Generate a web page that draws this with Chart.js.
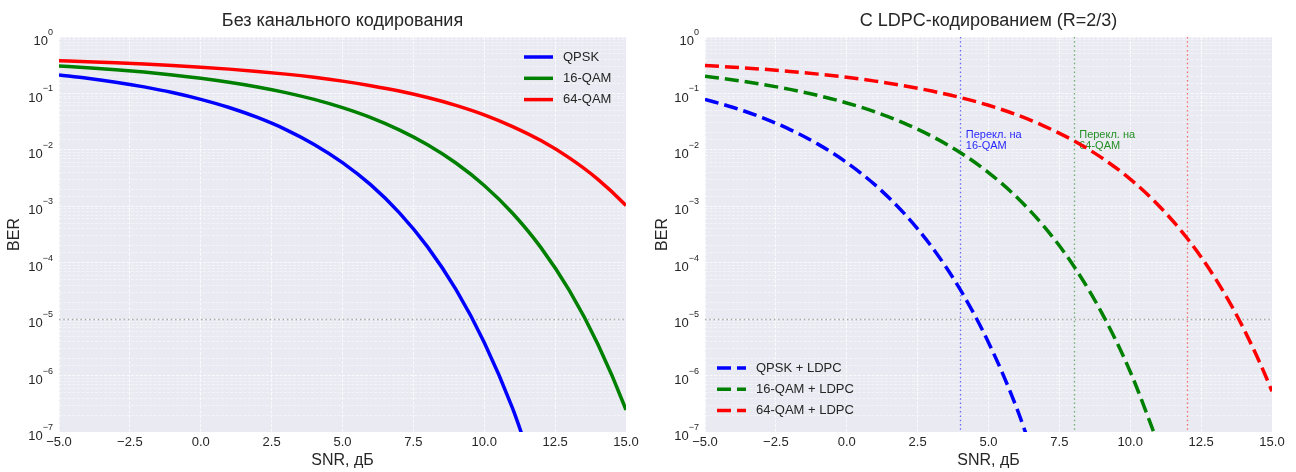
<!DOCTYPE html>
<html>
<head>
<meta charset="utf-8">
<script src="https://cdn.jsdelivr.net/npm/chart.js@4.4.1/dist/chart.umd.min.js"></script>
<style>
    html, body { margin: 0; padding: 0; background: #fff; overflow: hidden; }
    #wrap { position: relative; width: 1296px; height: 472px; }
    canvas { position: absolute; top: 0; }
</style>
</head>
<body>
<div id="wrap">
    <canvas id="uncoded" width="648" height="472" style="left:0"></canvas>
    <canvas id="coded" width="648" height="472" style="left:648px"></canvas>
</div>
<script>
'use strict';

// ось X: SNR, дБ (последняя точка — за краем графика, чтобы кривая не ломалась у края)
const snrDb = [-5, -4, -3, -2, -1, 0, 1, 2, 3, 4, 5, 6, 7, 8, 9, 10, 11, 12, 13, 14, 15, 16];

// без канального кодирования
const berQpsk = [0.2132, 0.1863, 0.1584, 0.1306, 0.1038, 0.0786, 0.0563, 0.0375, 0.0229, 0.0125,
    0.00595, 0.00239, 7.72e-4, 1.91e-4, 3.36e-5, 3.87e-6, 2.61e-7, 9.0e-9, null, null, null, null];
const ber16qam = [0.3075, 0.2865, 0.2636, 0.2388, 0.2128, 0.1857, 0.1579, 0.1303, 0.1035, 0.0783,
    0.0559, 0.0372, 0.0226, 0.0123, 0.00585, 0.00234, 7.52e-4, 1.85e-4, 3.23e-5, 3.68e-6, 2.46e-7, 8.5e-9];
const ber64qam = [0.3791, 0.3650, 0.3492, 0.3319, 0.3128, 0.2922, 0.2696, 0.2454, 0.2198, 0.1930,
    0.1653, 0.1373, 0.1103, 0.0847, 0.0616, 0.0418, 0.0259, 0.0146, 0.0072, 0.00303, 1.03e-3, 2.74e-4];

// с LDPC-кодированием
const berQpskLdpc = [0.0786, 0.0563, 0.0375, 0.0229, 0.0125, 0.00595, 0.00239, 7.72e-4, 1.91e-4, 3.36e-5,
    3.87e-6, 2.61e-7, 9.0e-9, null, null, null, null, null, null, null, null, null];
const ber16qamLdpc = [0.2009, 0.1734, 0.1456, 0.1180, 0.0918, 0.0678, 0.0472, 0.0301, 0.01746, 0.00898,
    0.00396, 0.001445, 4.15e-4, 8.84e-5, 1.28e-5, 1.17e-6, 5.9e-8, null, null, null, null, null];
const ber64qamLdpc = [0.3128, 0.2922, 0.2696, 0.2454, 0.2198, 0.1930, 0.1653, 0.1373, 0.1103, 0.0847,
    0.0616, 0.0418, 0.0259, 0.0146, 0.0072, 0.00303, 1.034e-3, 2.74e-4, 5.27e-5, 6.77e-6, 5.26e-7, 2.2e-8];

const namesUncoded = ['QPSK', '16-QAM', '64-QAM'];
const namesCoded = ['QPSK + LDPC', '16-QAM + LDPC', '64-QAM + LDPC'];
const lineColors = ['blue', 'green', 'red'];

// пороги переключения модуляции
const switchSnr = [4, 8, 12];
const switchColors = ['rgba(0,0,255,0.55)', 'rgba(0,128,0,0.55)', 'rgba(255,0,0,0.55)'];
const switchTextColors = ['rgba(0,0,255,0.85)', 'rgba(0,128,0,0.85)'];
const switchTexts = [['Перекл. на', '16-QAM'], ['Перекл. на', '64-QAM']];
const berTarget = 1e-5;

const FONT = '"Liberation Sans", Arial, sans-serif';
const TEXT = '#262626';
const DASH = [14, 6];

function points(values) {
    let pts = [];
    for (let i = 0; i < snrDb.length; i++) {
        if (values[i] !== null) pts.push({ x: snrDb[i], y: values[i] });
    }
    return pts;
}

function isDecade(v) {
    let l = Math.log10(v);
    return Math.abs(l - Math.round(l)) < 1e-6;
}

/** фон, пороговые линии, подписи, легенда и степенные метки оси Y */
const decorPlugin = {
    id: 'decor',
    beforeDraw(chart) {
        let a = chart.chartArea, ctx = chart.ctx;
        ctx.save();
        ctx.fillStyle = '#EAEAF2';
        ctx.fillRect(a.left, a.top, a.right - a.left, a.bottom - a.top);
        ctx.restore();
    },
    beforeDatasetsDraw(chart, args, opts) {
        let a = chart.chartArea, ctx = chart.ctx;
        let xs = chart.scales.x, ys = chart.scales.y;
        ctx.save();
        ctx.lineWidth = 1.3;
        ctx.setLineDash([1.5, 2.8]);
        // горизонтальная линия целевого BER
        let yt = Math.round(ys.getPixelForValue(berTarget)) + 0.5;
        ctx.strokeStyle = 'rgba(128,128,128,0.65)';
        ctx.beginPath();
        ctx.moveTo(a.left, yt);
        ctx.lineTo(a.right, yt);
        ctx.stroke();
        if (opts.switches) {
            switchSnr.forEach((s, i) => {
                let x = Math.round(xs.getPixelForValue(s)) + 0.5;
                ctx.strokeStyle = switchColors[i];
                ctx.beginPath();
                ctx.moveTo(x, a.top);
                ctx.lineTo(x, a.bottom);
                ctx.stroke();
            });
            ctx.setLineDash([]);
            ctx.font = '11px ' + FONT;
            ctx.textAlign = 'left';
            ctx.textBaseline = 'alphabetic';
            switchTexts.forEach((lines, i) => {
                let x = xs.getPixelForValue(switchSnr[i] + 0.2);
                let y = ys.getPixelForValue(1e-2) - 0.5;
                ctx.fillStyle = switchTextColors[i];
                ctx.fillText(lines[0], x, y - 11.5);
                ctx.fillText(lines[1], x, y);
            });
        }
        ctx.restore();
    },
    afterDraw(chart, args, opts) {
        let a = chart.chartArea, ctx = chart.ctx;
        let ys = chart.scales.y;
        ctx.save();
        // метки 10^n
        ctx.fillStyle = TEXT;
        ctx.textBaseline = 'middle';
        for (let t of ys.ticks) {
            if (!isDecade(t.value)) continue;
            let e = Math.round(Math.log10(t.value));
            let exp = e === 0 ? '0' : '\u2212' + -e;
            let y = ys.getPixelForValue(t.value);
            ctx.font = '9px ' + FONT;
            let we = ctx.measureText(exp).width;
            ctx.textAlign = 'left';
            ctx.fillText(exp, a.left - 6 - we, y - 4.5);
            ctx.font = '13px ' + FONT;
            ctx.textAlign = 'right';
            ctx.fillText('10', a.left - 6 - we, y + 4.5);
        }
        // заголовок по центру области графика
        ctx.font = '18px ' + FONT;
        ctx.textAlign = 'center';
        ctx.fillText(opts.title, (a.left + a.right) / 2, 21.5);
        // легенда
        let lx = opts.legendRight ? a.right - 102 : a.left + 12;
        let ly = opts.legendRight ? a.top + 20 : a.bottom - 64;
        ctx.font = '13px ' + FONT;
        ctx.textAlign = 'left';
        chart.data.datasets.forEach((ds, i) => {
            let y = ly + i * 21.3;
            ctx.strokeStyle = ds.borderColor;
            ctx.lineWidth = 3.5;
            ctx.setLineDash(ds.borderDash || []);
            ctx.beginPath();
            ctx.moveTo(lx, y);
            ctx.lineTo(lx + 29, y);
            ctx.stroke();
            ctx.fillStyle = TEXT;
            ctx.fillText(ds.label, lx + 39, y);
        });
        ctx.restore();
    },
};

function makeChart(id, names, series, dashed, opts, yWidth, padRight) {
    let ctx = document.getElementById(id).getContext('2d');
    let datasets = series.map((values, i) => ({
        label: names[i],
        data: points(values),
        borderColor: lineColors[i],
        borderWidth: 3.5,
        borderDash: dashed ? DASH : [],
        pointRadius: 0,
        cubicInterpolationMode: 'monotone',
    }));
    return new Chart(ctx, {
        type: 'line',
        data: { datasets },
        plugins: [decorPlugin],
        options: {
            responsive: false,
            animation: false,
            devicePixelRatio: 1,
            layout: { padding: { top: 37, right: padRight, left: 0, bottom: 0 } },
            elements: { line: { capBezierPoints: false } },
            plugins: {
                legend: { display: false },
                title: { display: false },
                tooltip: { enabled: false },
                decor: opts,
            },
            scales: {
                x: {
                    type: 'linear',
                    min: -5,
                    max: 15,
                    afterFit(scale) { scale.height = 40; },
                    ticks: {
                        stepSize: 2.5,
                        maxRotation: 0,
                        padding: 3,
                        color: TEXT,
                        font: { family: FONT, size: 13 },
                        callback: (v) => (v < 0 ? '\u2212' : '') + Math.abs(v).toFixed(1),
                    },
                    grid: {
                        color: 'rgba(255,255,255,0.75)',
                        lineWidth: 1,
                        drawTicks: false,
                    },
                    border: { display: false, dash: [3, 1.5] },
                    title: {
                        display: true,
                        text: 'SNR, дБ',
                        color: TEXT,
                        font: { family: FONT, size: 16 },
                        padding: { top: 0, bottom: 2 },
                    },
                },
                y: {
                    type: 'logarithmic',
                    min: 1e-7,
                    max: 1,
                    afterFit(scale) { scale.width = yWidth; },
                    ticks: { display: false },
                    grid: {
                        color: (c) => c.tick && isDecade(c.tick.value)
                            ? 'rgba(255,255,255,0.75)' : 'rgba(255,255,255,0.55)',
                        lineWidth: (c) => c.tick && isDecade(c.tick.value) ? 1 : 0.8,
                        drawTicks: false,
                    },
                    border: { display: false, dash: [3, 1.5] },
                    title: {
                        display: true,
                        text: 'BER',
                        color: TEXT,
                        font: { family: FONT, size: 16 },
                        padding: { top: 5, bottom: 0 },
                    },
                },
            },
        },
    });
}

makeChart('uncoded', namesUncoded, [berQpsk, ber16qam, ber64qam], false,
    { title: 'Без канального кодирования', legendRight: true, switches: false }, 59, 22);
makeChart('coded', namesCoded, [berQpskLdpc, ber16qamLdpc, ber64qamLdpc], true,
    { title: 'С LDPC-кодированием (R=2/3)', legendRight: false, switches: true }, 57, 24);
</script>
</body>
</html>
